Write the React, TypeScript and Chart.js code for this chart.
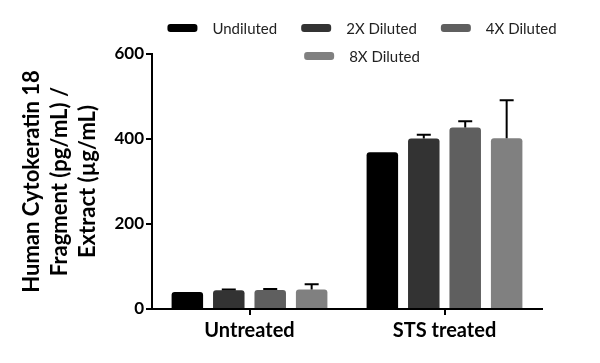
import React, { useEffect, useRef } from "react";
import { Chart, registerables } from "chart.js";

Chart.register(...registerables);

const categories = ["Untreated", "STS treated"];
const seriesLabels = ["Undiluted", "2X Diluted", "4X Diluted", "8X Diluted"];
const undiluted = [40, 369];
const diluted2x = [44, 401];
const diluted4x = [45, 427];
const diluted8x = [46, 402];
const undilutedErr = [0, 0];
const diluted2xErr = [2, 9];
const diluted4xErr = [2, 15];
const diluted8xErr = [12, 89];
const yTicks = [0, 200, 400, 600];
const yTitle = ["Human Cytokeratin 18", "Fragment (pg/mL) /", "Extract (\u00b5g/mL)"];

const colors = ["#000000", "#333333", "#5f5f5f", "#808080"];
const FONT = "Lato, 'Open Sans', sans-serif";

const errorBarPlugin = {
  id: "errorBars",
  afterDatasetsDraw(chart: any) {
    const ctx = chart.ctx;
    const yScale = chart.scales.y;
    chart.data.datasets.forEach((ds: any, i: number) => {
      const meta = chart.getDatasetMeta(i);
      if (meta.hidden) return;
      meta.data.forEach((bar: any, j: number) => {
        const err = ds.errors ? ds.errors[j] : 0;
        if (!err) return;
        const v = ds.data[j];
        const yTop = yScale.getPixelForValue(v + err);
        const yBase = yScale.getPixelForValue(v);
        ctx.save();
        ctx.strokeStyle = "#000";
        ctx.lineWidth = 2;
        ctx.beginPath();
        ctx.moveTo(bar.x, yBase);
        ctx.lineTo(bar.x, yTop);
        ctx.moveTo(bar.x - 7, yTop);
        ctx.lineTo(bar.x + 7, yTop);
        ctx.stroke();
        ctx.restore();
      });
    });
  },
};

// Legend drawn to match the reference layout (wrapped rows, wide boxes)
const customLegendPlugin = {
  id: "customLegend",
  afterDraw(chart: any) {
    const ctx = chart.ctx;
    const boxW = 30;
    const boxH = 8;
    const textGap = 15;
    const itemGap = 24;
    const maxRow = 400;
    const rowH = 28;
    const centerX = (chart.chartArea.left + chart.chartArea.right) / 2 + 15;
    const firstRowY = 28;
    ctx.save();
    ctx.font = `15px ${FONT}`;
    const items = chart.data.datasets.map((ds: any) => {
      const w = boxW + textGap + ctx.measureText(ds.label).width;
      return { label: ds.label, color: ds.backgroundColor, w };
    });
    const rows: any[][] = [[]];
    let rowW = 0;
    items.forEach((it: any) => {
      const add = rows[rows.length - 1].length ? itemGap + it.w : it.w;
      if (rowW + add > maxRow && rows[rows.length - 1].length) {
        rows.push([it]);
        rowW = it.w;
      } else {
        rows[rows.length - 1].push(it);
        rowW += add;
      }
    });
    rows.forEach((row, r) => {
      const total = row.reduce((s: number, it: any, k: number) => s + it.w + (k ? itemGap : 0), 0);
      let x = centerX - total / 2;
      const y = firstRowY + r * rowH;
      row.forEach((it: any) => {
        ctx.fillStyle = it.color;
        ctx.beginPath();
        (ctx as any).roundRect(x, y - boxH / 2, boxW, boxH, 3);
        ctx.fill();
        ctx.fillStyle = "#222";
        ctx.textAlign = "left";
        ctx.textBaseline = "middle";
        ctx.fillText(it.label, x + boxW + textGap, y + 1);
        x += it.w + itemGap;
      });
    });
    ctx.restore();
  },
};

export default function App() {
  const ref = useRef<HTMLCanvasElement>(null);
  useEffect(() => {
    if (!ref.current) return;
    const values = [undiluted, diluted2x, diluted4x, diluted8x];
    const errs = [undilutedErr, diluted2xErr, diluted4xErr, diluted8xErr];
    const chart = new Chart(ref.current, {
      type: "bar",
      data: {
        labels: categories,
        datasets: seriesLabels.map((label, i) => ({
          label,
          data: values[i],
          errors: errs[i],
          backgroundColor: colors[i],
          borderWidth: 0,
          borderRadius: 3,
          borderSkipped: "bottom",
          categoryPercentage: 0.85,
          barPercentage: 0.76,
        })) as any,
      },
      options: {
        animation: false,
        responsive: true,
        maintainAspectRatio: false,
        layout: { padding: { top: 54, right: 58, bottom: 0, left: 0 } },
        plugins: {
          tooltip: { enabled: false },
          legend: { display: false },
        },
        scales: {
          x: {
            offset: true,
            afterFit(scale: any) {
              scale.height = 54;
            },
            border: { color: "#000", width: 2 },
            grid: {
              display: true,
              offset: false,
              drawOnChartArea: false,
              drawTicks: true,
              tickLength: 6,
              color: "#000",
              lineWidth: 2,
            },
            ticks: {
              color: "#000",
              padding: 4,
              font: { family: FONT, size: 20, weight: "bold" },
            },
          },
          y: {
            min: 0,
            max: 600,
            afterFit(scale: any) {
              scale.width = 152;
            },
            afterBuildTicks(scale: any) {
              scale.ticks = yTicks.map((v) => ({ value: v }));
            },
            border: { color: "#000", width: 2 },
            grid: {
              display: true,
              drawOnChartArea: false,
              drawTicks: true,
              tickLength: 6,
              color: "#000",
              lineWidth: 2,
            },
            ticks: {
              color: "#000",
              padding: 2,
              font: { family: FONT, size: 17, weight: "bold" },
            },
            title: {
              display: true,
              text: yTitle,
              color: "#000",
              padding: { top: 18, bottom: 0 },
              font: { family: FONT, size: 22, weight: "bold", lineHeight: 1.27 },
            },
          },
        },
      },
      plugins: [errorBarPlugin, customLegendPlugin],
    });
    return () => chart.destroy();
  }, []);
  return (
    <div style={{ position: "fixed", left: 0, top: 0, width: 600, height: 363, background: "#fff" }}>
      <canvas ref={ref} />
    </div>
  );
}
